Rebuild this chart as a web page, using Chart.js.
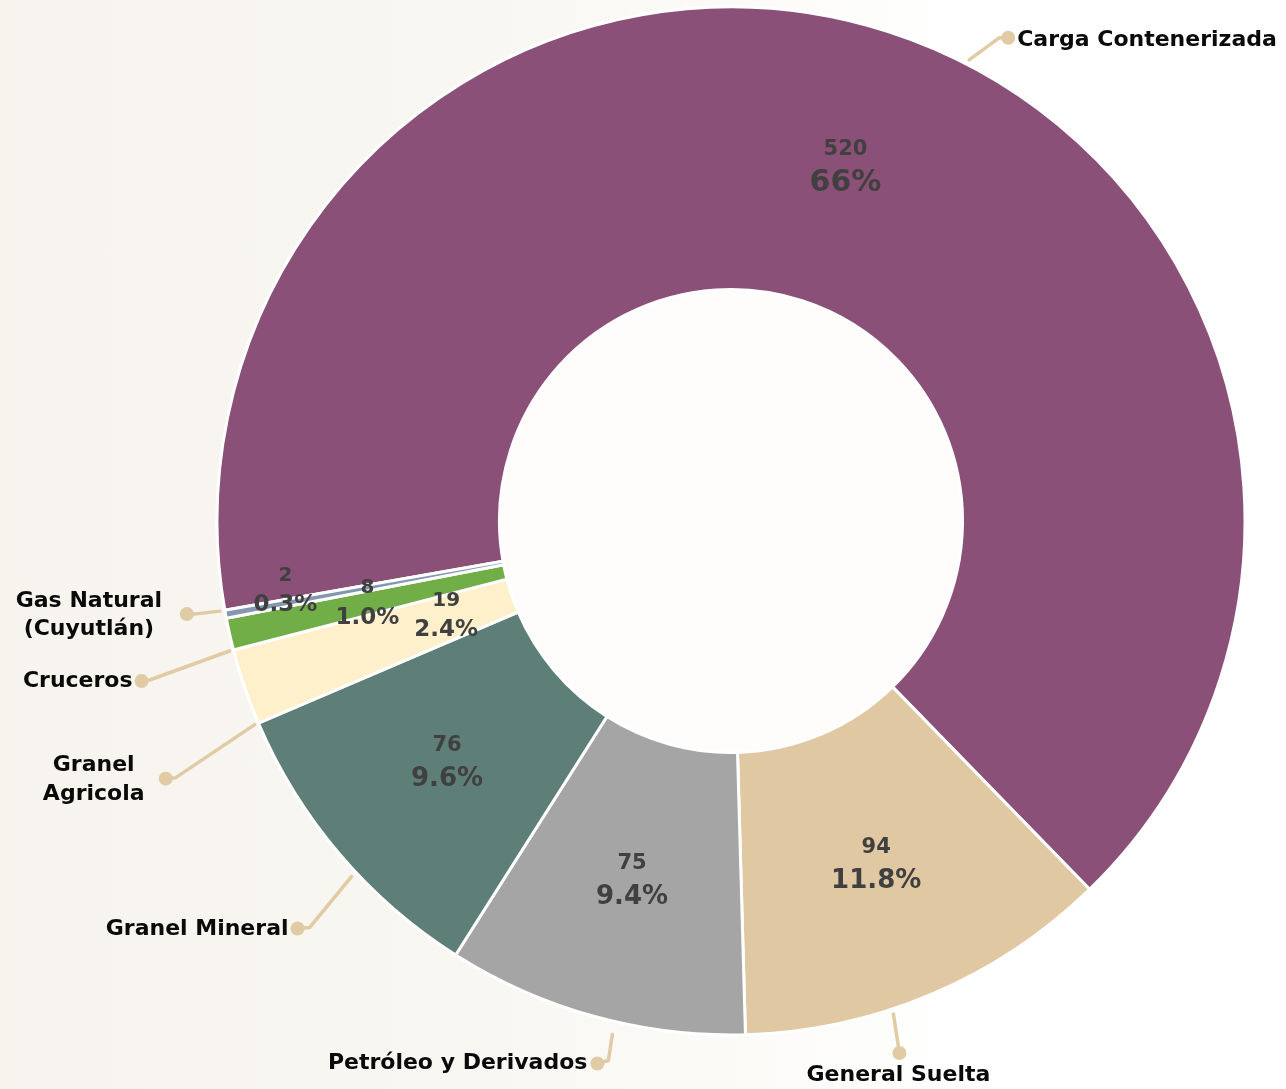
<!DOCTYPE html>
<html lang="es">
<head>
<meta charset="utf-8">
<title>Carga por tipo</title>
<script src="https://cdn.jsdelivr.net/npm/chart.js@4.4.1/dist/chart.umd.min.js"></script>
<style>
    html, body { margin: 0; padding: 0; }
    body {
        width: 1286px; height: 1089px; overflow: hidden;
        background: linear-gradient(90deg, #f7f4ee 0%, #f8f6f1 30%, #fbfaf7 55%, #ffffff 75%);
    }
    #wrap { position: relative; width: 1286px; height: 1089px; }
</style>
</head>
<body>
<div id="wrap"><canvas id="donutChart"></canvas></div>

<script>
/* ============================================================
   Carga por tipo — gráfica de dona
   ============================================================ */

// datos
var CATEGORIAS  = ["Carga Contenerizada", "General Suelta", "Petróleo y Derivados",
                   "Granel Mineral", "Granel Agricola", "Cruceros", "Gas Natural (Cuyutlán)"];
var VALORES     = [520, 94, 75, 76, 19, 8, 2];
// porcentajes tal como aparecen en la lámina
var PORCENTAJES = ["66%", "11.8%", "9.4%", "9.6%", "2.4%", "1.0%", "0.3%"];

// nombres tal como se muestran (en renglones)
var NOMBRES = [["Carga Contenerizada"], ["General Suelta"], ["Petróleo y Derivados"],
               ["Granel Mineral"], ["Granel", "Agricola"], ["Cruceros"], ["Gas Natural", "(Cuyutlán)"]];

var COLORES = ["#8b5078", "#dfc8a2", "#a5a5a5", "#5d7f78", "#fff0cc", "#71ae48", "#8497b0"];

var COLOR_GUIA = "#e0cba4";

// líneas guía: punto de salida sobre el arco (frac), codo y punto relativos a la salida,
// texto relativo al punto
var GUIAS = [
    { frac: 0.54, gap: 5,  codo: [30, -22], punto: [39, -22], align: "left",   tx: 9,   ty: [2] },
    { frac: 0.61, gap: 5,  codo: [6, 39],   punto: [6, 39],   align: "center", tx: -1,  ty: [22] },
    { frac: 0.43, gap: 13, codo: [-4, 26],  punto: [-15, 29], align: "right",  tx: -10, ty: [0] },
    { frac: 0.42, gap: 6,  codo: [-42, 51], punto: [-54, 52], align: "right",  tx: -9,  ty: [1] },
    { frac: 0.0,  gap: 4,  codo: [-79, 53], punto: [-89, 54], align: "center", tx: -72, ty: [-13, 16] },
    { frac: 0.0,  gap: 4,  codo: [-80, 29], punto: [-88, 30], align: "right",  tx: -9,  ty: [0] },
    { frac: 1.0,  gap: 5,  codo: [-26, 3],  punto: [-33, 3],  align: "center", tx: -98, ty: [-13, 15] }
];

// ajustes de las etiquetas internas (radio y giro en grados)
var AJUSTE_ETQ = [null, null, null, null, { r: 300, da: 0.5 }, null, { r: 451, da: 1.6 }];
var TAM_PCT    = [30, 26, 26, 26, 23, 23, 23];
var TAM_VALOR  = [21, 21, 21, 21, 20, 20, 20];

var FUENTE = "'DejaVu Sans', 'Noto Sans', sans-serif";


// ============================================================
// Plugin: hueco claro, valores, porcentajes y nombres con guías
// ============================================================

var etiquetasPlugin = {
    id: "etiquetas",
    beforeDatasetsDraw: function (chart) {
        // el centro de la dona es casi blanco
        var arc = chart.getDatasetMeta(0).data[0];
        if (!arc) return;
        var p = arc.getProps(["x", "y", "innerRadius"], true);
        var ctx = chart.ctx;
        ctx.save();
        ctx.fillStyle = "#fefdfb";
        ctx.beginPath();
        ctx.arc(p.x, p.y, p.innerRadius + 2, 0, Math.PI * 2);
        ctx.fill();
        ctx.restore();
    },
    afterDatasetsDraw: function (chart) {
        var ctx  = chart.ctx;
        var arcs = chart.getDatasetMeta(0).data;

        ctx.save();
        ctx.textBaseline = "middle";

        arcs.forEach(function (arc, i) {
            var p = arc.getProps(["x", "y", "startAngle", "endAngle", "innerRadius", "outerRadius"], true);

            // --- etiqueta interna ---
            var mid = (p.startAngle + p.endAngle) / 2;
            var r   = (p.innerRadius + p.outerRadius) / 2;
            var aj  = AJUSTE_ETQ[i];
            if (aj) {
                r = aj.r;
                mid += aj.da * Math.PI / 180;
            }
            var cx = p.x + Math.cos(mid) * r;
            var cy = p.y + Math.sin(mid) * r;
            var sep = TAM_PCT[i] >= 26 ? 16.5 : 15;

            ctx.textAlign = "center";
            ctx.fillStyle = "#404040";
            ctx.font = "bold " + TAM_VALOR[i] + "px " + FUENTE;
            ctx.fillText(String(VALORES[i]), cx, cy - sep);
            ctx.font = "bold " + TAM_PCT[i] + "px " + FUENTE;
            ctx.fillText(PORCENTAJES[i], cx, cy + sep);

            // --- línea guía ---
            var g  = GUIAS[i];
            var a  = p.startAngle + g.frac * (p.endAngle - p.startAngle);
            var sx = p.x + Math.cos(a) * (p.outerRadius + g.gap);
            var sy = p.y + Math.sin(a) * (p.outerRadius + g.gap);
            var px = sx + g.punto[0];
            var py = sy + g.punto[1];

            ctx.strokeStyle = COLOR_GUIA;
            ctx.lineWidth = 3.5;
            ctx.lineCap = "round";
            ctx.lineJoin = "round";
            ctx.beginPath();
            ctx.moveTo(sx, sy);
            ctx.lineTo(sx + g.codo[0], sy + g.codo[1]);
            ctx.lineTo(px, py);
            ctx.stroke();

            ctx.fillStyle = COLOR_GUIA;
            ctx.beginPath();
            ctx.arc(px, py, 7, 0, Math.PI * 2);
            ctx.fill();

            // --- nombre ---
            ctx.fillStyle = "#0a0a0a";
            ctx.font = "bold 22px " + FUENTE;
            ctx.textAlign = g.align;
            NOMBRES[i].forEach(function (linea, k) {
                ctx.fillText(linea, px + g.tx, py + g.ty[k]);
            });
        });

        ctx.restore();
    }
};


// ============================================================
// Gráfica
// ============================================================

new Chart(document.getElementById("donutChart").getContext("2d"), {
    type: "doughnut",
    data: {
        labels: CATEGORIAS,
        datasets: [{
            data: VALORES,
            backgroundColor: COLORES,
            borderColor: "#ffffff",
            borderWidth: 3,
            hoverOffset: 0
        }]
    },
    options: {
        responsive: true,
        maintainAspectRatio: false,
        animation: false,
        rotation: 260,
        radius: 514,
        cutout: 234,
        layout: { padding: { left: 176, right: 0, top: 0, bottom: 47 } },
        plugins: {
            legend:  { display: false },
            tooltip: { enabled: false }
        }
    },
    plugins: [etiquetasPlugin]
});
</script>
</body>
</html>
